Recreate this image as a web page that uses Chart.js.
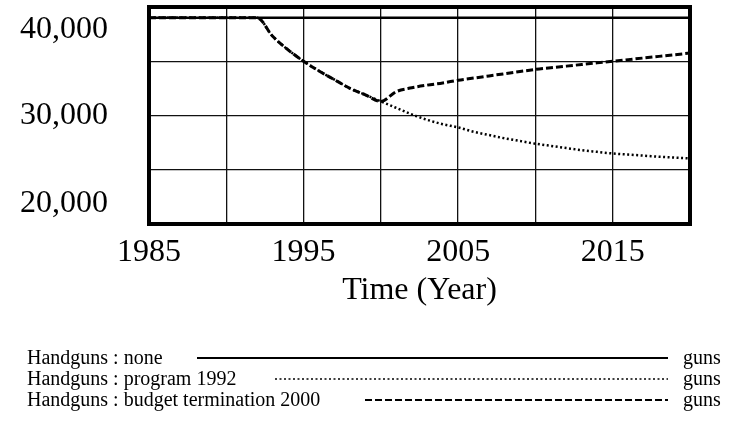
<!DOCTYPE html>
<html>
<head>
<meta charset="utf-8">
<script src="https://cdn.jsdelivr.net/npm/chart.js@4/dist/chart.umd.min.js"></script>
<style>
  html, body { margin: 0; padding: 0; background: #fff; }
  #wrap { width: 733px; height: 424px; }
</style>
</head>
<body>
<div id="wrap"><canvas id="myChart" width="733" height="424"></canvas></div>
<script>
const years = [1985, 1986, 1987, 1988, 1989, 1990, 1991, 1992, 1993, 1994, 1995, 1996,
  1997, 1998, 1999, 2000, 2001, 2002, 2003, 2004, 2005, 2006, 2007, 2008,
  2009, 2010, 2011, 2012, 2013, 2014, 2015, 2016, 2017, 2018, 2019, 2020];

const handgunsNone = [39000, 39000, 39000, 39000, 39000, 39000, 39000, 39000, 39000, 39000, 39000, 39000,
  39000, 39000, 39000, 39000, 39000, 39000, 39000, 39000, 39000, 39000, 39000, 39000,
  39000, 39000, 39000, 39000, 39000, 39000, 39000, 39000, 39000, 39000, 39000, 39000];

const handgunsProgram1992 = [39000, 39000, 39000, 39000, 39000, 39000, 39000, 39000, 37300, 36050, 35000, 34100,
  33300, 32500, 31900, 31300, 30700, 30100, 29600, 29200, 28900, 28500, 28200, 27900,
  27650, 27400, 27200, 27000, 26800, 26650, 26500, 26400, 26300, 26200, 26120, 26050];

const handgunsBudget2000 = [39000, 39000, 39000, 39000, 39000, 39000, 39000, 39000, 37300, 36050, 35000, 34100,
  33300, 32500, 31900, 31300, 32200, 32550, 32800, 33000, 33250, 33450, 33650, 33850,
  34050, 34250, 34400, 34550, 34700, 34850, 35000, 35150, 35300, 35450, 35600, 35750];

const yLabels = [20000, 30000, 40000];
const xLabels = [1985, 1995, 2005, 2015];
const xTitle = "Time (Year)";
const legendRows = [
  { label: "Handguns : none", unit: "guns" },
  { label: "Handguns : program 1992", unit: "guns" },
  { label: "Handguns : budget termination 2000", unit: "guns" },
];

const serif = '"Liberation Serif", "Times New Roman", serif';

const toPoints = (vals) => vals.map((v, i) => ({ x: years[i], y: v }));

// frame, y labels, x title and legend drawn on the canvas
const vensimPlugin = {
  id: "vensim",
  afterDraw(chart) {
    const { ctx, chartArea: a, scales } = chart;
    ctx.save();
    ctx.strokeStyle = "#000";
    ctx.lineWidth = 4;
    ctx.strokeRect(a.left, a.top, a.right - a.left, a.bottom - a.top);

    ctx.fillStyle = "#000";
    ctx.font = "32px " + serif;
    ctx.textAlign = "right";
    ctx.textBaseline = "alphabetic";
    yLabels.forEach((v) => {
      let y = scales.y.getPixelForValue(v) + 8;
      y = Math.max(a.top + 31, Math.min(a.bottom - 12, y));
      ctx.fillText(v.toLocaleString("en-US"), 108, y);
    });

    ctx.textAlign = "center";
    ctx.fillText(xTitle, (a.left + a.right) / 2, 299);

    ctx.font = "20px " + serif;
    ctx.textAlign = "left";
    const rowY = [358, 379, 400];
    const lineStart = [197, 275, 365];
    legendRows.forEach((row, i) => {
      const ds = chart.data.datasets[i];
      ctx.fillText(row.label, 27, rowY[i] + 6);
      ctx.fillText(row.unit, 683, rowY[i] + 6);
      ctx.beginPath();
      ctx.setLineDash(ds.borderDash || []);
      ctx.lineWidth = ds.legendWidth;
      ctx.moveTo(lineStart[i], rowY[i]);
      ctx.lineTo(668, rowY[i]);
      ctx.stroke();
    });
    ctx.restore();
  },
};

new Chart(document.getElementById("myChart"), {
  type: "line",
  data: {
    datasets: [
      {
        label: legendRows[0].label,
        data: toPoints(handgunsNone),
        borderColor: "#000",
        borderWidth: 2.5,
        legendWidth: 2,
        pointRadius: 0,
        order: 0,
      },
      {
        label: legendRows[1].label,
        data: toPoints(handgunsProgram1992),
        borderColor: "#000",
        borderWidth: 2.5,
        borderDash: [2, 2.5],
        legendWidth: 1.5,
        pointRadius: 0,
        cubicInterpolationMode: "monotone",
        order: 2,
      },
      {
        label: legendRows[2].label,
        data: toPoints(handgunsBudget2000),
        borderColor: "#000",
        borderWidth: 3,
        borderDash: [7, 3],
        legendWidth: 2,
        pointRadius: 0,
        cubicInterpolationMode: "monotone",
        order: 1,
      },
    ],
  },
  options: {
    responsive: false,
    animation: false,
    layout: { padding: { left: 0, top: 7, right: 43, bottom: 0 } },
    plugins: { legend: { display: false }, tooltip: { enabled: false } },
    scales: {
      x: {
        type: "linear",
        min: 1985,
        max: 2020,
        grid: { color: "#111", lineWidth: 1.3, drawTicks: false },
        border: { display: false },
        ticks: {
          stepSize: 5,
          padding: 9,
          color: "#000",
          font: { family: serif, size: 32 },
          maxRotation: 0,
          autoSkip: false,
          callback: (v) => (xLabels.includes(v) ? String(v) : ""),
        },
        afterFit: (s) => { s.height = 200; },
      },
      y: {
        min: 20000,
        max: 40000,
        grid: { color: "#111", lineWidth: 1.3, drawTicks: false },
        border: { display: false },
        ticks: { display: false, stepSize: 5000 },
        afterFit: (s) => { s.width = 149; },
      },
    },
  },
  plugins: [vensimPlugin],
});
</script>
</body>
</html>
